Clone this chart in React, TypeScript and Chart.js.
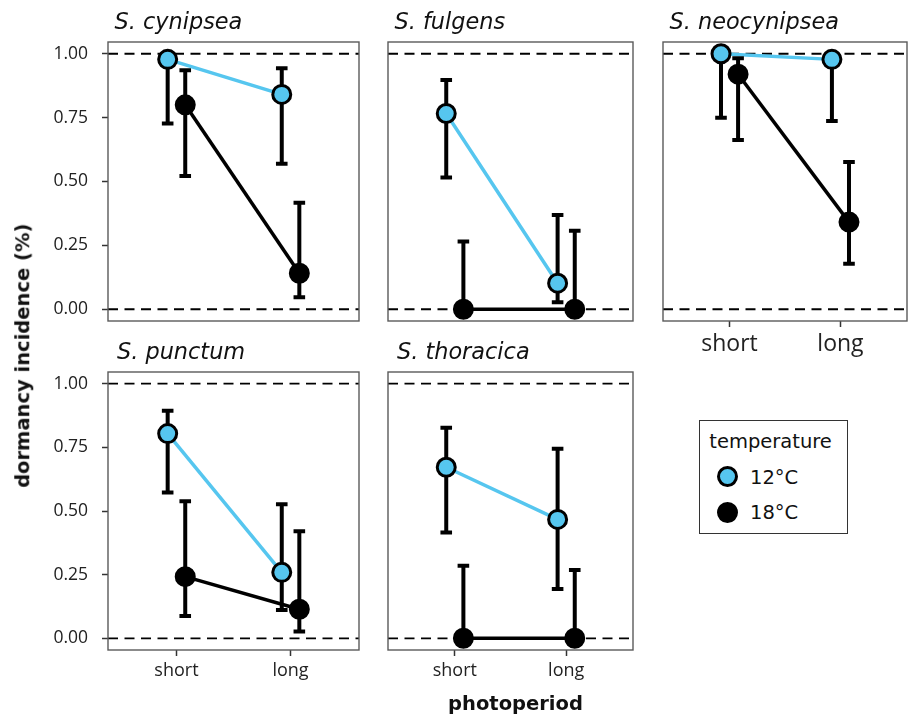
import React, { useEffect, useRef } from "react";
import { Chart, registerables } from "chart.js";

Chart.register(...registerables);

// ---------- data ----------
const categories = ["short", "long"];
const xTickValues = [1, 2];
const yTickValues = [0, 0.25, 0.5, 0.75, 1];
const speciesNames = ["S. cynipsea", "S. fulgens", "S. neocynipsea", "S. punctum", "S. thoracica"];
const temperatures = ["12°C", "18°C"];

// per species: [short, long]
const mean12 = [[0.978, 0.841], [0.766, 0.102], [1.0, 0.978], [0.804, 0.259], [0.672, 0.467]];
const lower12 = [[0.727, 0.569], [0.516, 0.027], [0.75, 0.737], [0.573, 0.111], [0.416, 0.194]];
const upper12 = [[0.998, 0.943], [0.897, 0.369], [1.0, 0.998], [0.894, 0.527], [0.827, 0.745]];

const mean18 = [[0.8, 0.141], [0, 0], [0.92, 0.341], [0.242, 0.114], [0, 0]];
const lower18 = [[0.522, 0.047], [0, 0], [0.662, 0.178], [0.088, 0.027], [0, 0]];
const upper18 = [[0.935, 0.417], [0.265, 0.307], [0.982, 0.576], [0.538, 0.42], [0.285, 0.268]];

const refLines = [0, 1];

// ---------- style ----------
const BLUE = "#56C6EF";
const DODGE = 0.077;
const TICK_FONT = "'Open Sans', sans-serif";
const TEXT_FONT = "'DejaVu Sans', sans-serif";

type Panel = {
  idx: number;
  left: number;
  top: number;
  showY: boolean;
  showX: boolean;
  boxW: number;
  boxH: number;
  xFont: number;
  titleDx: number;
};

const panels: Panel[] = [
  { idx: 0, left: 0, top: 0, showY: true, showX: false, boxW: 262, boxH: 279, xFont: 18, titleDx: 6.5 },
  { idx: 1, left: 376, top: 0, showY: false, showX: false, boxW: 262, boxH: 279, xFont: 18, titleDx: 6.5 },
  { idx: 2, left: 651, top: 0, showY: false, showX: true, boxW: 261, boxH: 279, xFont: 23, titleDx: 6.5 },
  { idx: 3, left: 0, top: 330, showY: true, showX: true, boxW: 262, boxH: 278, xFont: 18, titleDx: 9 },
  { idx: 4, left: 376, top: 330, showY: false, showX: true, boxW: 262, boxH: 278, xFont: 18, titleDx: 9 },
];

const Y_AXIS_W = 108;
const PAD_L = 6;
const PAD_T = 42;
const X_AXIS_H = 50;
const PAD_B = 14;

const facetPlugin = {
  id: "facetDecor",
  beforeDatasetsDraw(chart: any) {
    const { ctx, chartArea, scales } = chart;
    ctx.save();
    ctx.strokeStyle = "#000";
    ctx.lineWidth = 1.8;
    ctx.setLineDash([10, 6.5]);
    refLines.forEach((v) => {
      const y = scales.y.getPixelForValue(v);
      ctx.beginPath();
      ctx.moveTo(chartArea.left, y);
      ctx.lineTo(chartArea.right, y);
      ctx.stroke();
    });
    ctx.restore();
  },
  beforeDatasetDraw(chart: any, args: any) {
    const ds = chart.data.datasets[args.index];
    if (!ds.drawErrorBarsBefore) return;
    const { ctx, scales } = chart;
    ctx.save();
    ctx.strokeStyle = "#000";
    ctx.lineWidth = 4;
    ctx.lineCap = "butt";
    chart.data.datasets.forEach((d: any) => {
      if (!d.errLow) return;
      d.data.forEach((p: any, i: number) => {
        const x = scales.x.getPixelForValue(p.x);
        const yl = scales.y.getPixelForValue(d.errLow[i]);
        const yh = scales.y.getPixelForValue(d.errHigh[i]);
        ctx.beginPath();
        ctx.moveTo(x, yl);
        ctx.lineTo(x, yh);
        ctx.moveTo(x - 5.8, yl);
        ctx.lineTo(x + 5.8, yl);
        ctx.moveTo(x - 5.8, yh);
        ctx.lineTo(x + 5.8, yh);
        ctx.stroke();
      });
    });
    ctx.restore();
  },
  afterDraw(chart: any, _args: any, opts: any) {
    const { ctx, chartArea } = chart;
    ctx.save();
    ctx.strokeStyle = "#5a5a5a";
    ctx.lineWidth = 1.4;
    ctx.strokeRect(chartArea.left, chartArea.top, chartArea.right - chartArea.left, chartArea.bottom - chartArea.top);
    ctx.fillStyle = "#111";
    ctx.font = `italic 22.4px ${TEXT_FONT}`;
    ctx.textBaseline = "alphabetic";
    ctx.textAlign = "left";
    ctx.fillText(opts.title, chartArea.left + opts.titleDx, chartArea.top - 12.7);
    ctx.restore();
  },
};

function FacetPanel({ p }: { p: Panel }) {
  const ref = useRef<HTMLCanvasElement | null>(null);
  const leftSpace = p.showY ? Y_AXIS_W : PAD_L;
  const width = leftSpace + p.boxW + 1;
  const height = PAD_T + p.boxH + (p.showX ? X_AXIS_H : PAD_B);

  useEffect(() => {
    if (!ref.current) return;
    const i = p.idx;
    const pts = (means: number[][], off: number) =>
      xTickValues.map((xv, k) => ({ x: xv + off, y: means[i][k] }));

    const chart = new Chart(ref.current, {
      type: "line",
      data: {
        datasets: [
          {
            label: temperatures[0] + " line",
            data: pts(mean12, -DODGE),
            borderColor: BLUE,
            borderWidth: 3.5,
            pointRadius: 0,
            fill: false,
            order: 4,
          } as any,
          {
            label: temperatures[1] + " line",
            data: pts(mean18, DODGE),
            borderColor: "#000",
            borderWidth: 3.5,
            pointRadius: 0,
            fill: false,
            order: 3,
          } as any,
          {
            label: temperatures[0],
            data: pts(mean12, -DODGE),
            showLine: false,
            pointRadius: 9,
            pointBackgroundColor: BLUE,
            pointBorderColor: "#000",
            pointBorderWidth: 3,
            order: 2,
            errLow: lower12[i],
            errHigh: upper12[i],
            drawErrorBarsBefore: true,
          } as any,
          {
            label: temperatures[1],
            data: pts(mean18, DODGE),
            showLine: false,
            pointRadius: 9,
            pointBackgroundColor: "#000",
            pointBorderColor: "#000",
            pointBorderWidth: 3,
            order: 1,
            errLow: lower18[i],
            errHigh: upper18[i],
          } as any,
        ],
      },
      options: {
        animation: false,
        responsive: false,
        maintainAspectRatio: false,
        events: [],
        layout: {
          padding: {
            top: PAD_T,
            left: p.showY ? 0 : PAD_L,
            right: 1,
            bottom: p.showX ? 0 : PAD_B,
          },
        },
        plugins: {
          legend: { display: false },
          tooltip: { enabled: false },
          title: { display: false },
          facetDecor: { title: speciesNames[i], titleDx: p.titleDx },
        } as any,
        scales: {
          x: {
            type: "linear",
            min: 0.4,
            max: 2.6,
            display: p.showX,
            afterBuildTicks: (s: any) => {
              s.ticks = xTickValues.map((v) => ({ value: v }));
            },
            afterFit: (s: any) => {
              s.height = p.showX ? X_AXIS_H : 0;
              s.paddingLeft = 0;
              s.paddingRight = 0;
              s.paddingTop = 0;
              s.paddingBottom = 0;
            },
            ticks: {
              autoSkip: false,
              maxRotation: 0,
              padding: 4,
              color: "#222",
              font: { family: TICK_FONT, size: p.xFont },
              callback: (v: any) => categories[xTickValues.indexOf(Number(v))] ?? "",
            },
            grid: {
              drawOnChartArea: false,
              drawTicks: true,
              tickLength: 6,
              tickColor: "#333",
              tickWidth: 1.5,
            },
            border: { display: false },
          },
          y: {
            type: "linear",
            min: -0.046,
            max: 1.046,
            display: p.showY,
            afterBuildTicks: (s: any) => {
              s.ticks = yTickValues.map((v) => ({ value: v }));
            },
            afterFit: (s: any) => {
              s.width = p.showY ? Y_AXIS_W : 0;
              s.paddingLeft = 0;
              s.paddingRight = 0;
              s.paddingTop = 0;
              s.paddingBottom = 0;
            },
            ticks: {
              autoSkip: false,
              padding: 14,
              color: "#222",
              font: { family: TICK_FONT, size: 17.5 },
              callback: (v: any) => Number(v).toFixed(2),
            },
            grid: {
              drawOnChartArea: false,
              drawTicks: true,
              tickLength: 6,
              tickColor: "#333",
              tickWidth: 1.5,
            },
            border: { display: false },
          },
        },
      },
      plugins: [facetPlugin],
    } as any);
    return () => chart.destroy();
  }, []);

  return (
    <canvas
      ref={ref}
      width={width}
      height={height}
      style={{ position: "absolute", left: p.left, top: p.top, width, height }}
    />
  );
}

const textStyle: React.CSSProperties = {
  position: "absolute",
  fontFamily: TEXT_FONT,
  fontSize: 19.5,
  lineHeight: "19.5px",
  color: "#111",
  whiteSpace: "nowrap",
};

export default function App() {
  return (
    <div style={{ position: "absolute", left: 0, top: 0, width: 919, height: 718, background: "#fff", overflow: "hidden" }}>
      {panels.map((p) => (
        <FacetPanel key={p.idx} p={p} />
      ))}
      <div
        style={{
          ...textStyle,
          fontWeight: "bold",
          left: 22.5 - 200,
          top: 355.5 - 9.75,
          width: 400,
          height: 19.5,
          textAlign: "center",
          transform: "rotate(-90deg)",
          transformOrigin: "50% 50%",
        }}
      >
        dormancy incidence (%)
      </div>
      <div
        style={{
          ...textStyle,
          fontWeight: "bold",
          left: 515.5 - 200,
          top: 694,
          width: 400,
          textAlign: "center",
        }}
      >
        photoperiod
      </div>
      <div
        style={{
          position: "absolute",
          left: 699,
          top: 420,
          width: 149,
          height: 114,
          border: "1.6px solid #333",
          boxSizing: "border-box",
        }}
      />
      <div style={{ ...textStyle, left: 709.3, top: 431.8 }}>temperature</div>
      {temperatures.map((t, k) => (
        <React.Fragment key={t}>
          <div
            style={{
              position: "absolute",
              left: 727.3 - 10.4,
              top: (k === 0 ? 476.7 : 512.7) - 10.4,
              width: 20.8,
              height: 20.8,
              boxSizing: "border-box",
              borderRadius: "50%",
              border: "3px solid #000",
              background: k === 0 ? BLUE : "#000",
            }}
          />
          <div style={{ ...textStyle, left: 750, top: k === 0 ? 467.5 : 502.8 }}>{t}</div>
        </React.Fragment>
      ))}
    </div>
  );
}
